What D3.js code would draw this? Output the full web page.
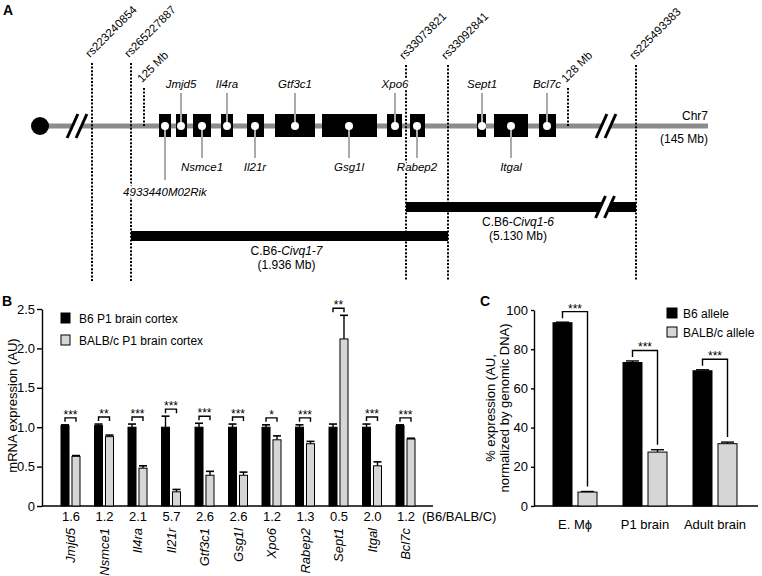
<!DOCTYPE html>
<html>
<head>
<meta charset="utf-8">
<script src="https://cdn.jsdelivr.net/npm/d3@7"></script>
<style>
  body { margin: 0; background: #fff; }
  svg { font-family: "Liberation Sans", Arial, Helvetica, sans-serif; }
  .axis path, .axis line { stroke: #000; stroke-width: 1.4; }
  .axis text { font-size: 13px; fill: #000; }
</style>
</head>
<body>
<div id="chart"></div>
<script>
// ---- Panel A: genetic map (positions in map units along the chromosome) ----
const mapGenes = ['4933440M02Rik', 'Jmjd5', 'Nsmce1', 'Il4ra', 'Il21r', 'Gtf3c1', 'Gsg1l', 'Xpo6', 'Rabep2', 'Sept1', 'Itgal', 'Bcl7c']
const geneStart = [119, 136, 153, 181, 207, 235, 282, 347, 370, 437, 454, 499]
const geneEnd = [131, 147, 171, 193, 224, 275, 337, 362, 385, 446, 488, 516]
const geneDot = [125, 141, 162, 187, 215, 255, 309, 355, 377, 442, 471, 507]
const geneSide = ['below2', 'above', 'below', 'above', 'below', 'above', 'below', 'above', 'below', 'above', 'below', 'above']

const markerNames = ['rs223240854', 'rs265227887', '125 Mb', 'rs33073821', 'rs33092841', '128 Mb', 'rs225493383']
const markerPos = [52, 91, 104, 366, 408, 528, 596]
const markerIsSnp = [true, true, false, true, true, false, true]

const chromBreaks = [37, 566]
const congenicNames = ['Civq1-7', 'Civq1-6']
const congenicSize = ['(1.936 Mb)', '(5.130 Mb)']
const congenicStart = [91, 366]
const congenicEnd = [408, 596]
const congenicBreak = [null, 565]

// ---- Panel B: mRNA expression ----
const genesB = ['Jmjd5', 'Nsmce1', 'Il4ra', 'Il21r', 'Gtf3c1', 'Gsg1l', 'Xpo6', 'Rabep2', 'Sept1', 'Itgal', 'Bcl7c']
const b6Expr = [1.02, 1.02, 1.0, 1.0, 1.0, 1.0, 1.0, 1.0, 1.0, 1.0, 1.02]
const b6Err = [0.01, 0.02, 0.04, 0.14, 0.05, 0.04, 0.03, 0.03, 0.04, 0.04, 0.01]
const balbExpr = [0.63, 0.88, 0.48, 0.18, 0.39, 0.39, 0.84, 0.79, 2.12, 0.51, 0.85]
const balbErr = [0.01, 0.02, 0.03, 0.03, 0.05, 0.04, 0.05, 0.03, 0.30, 0.05, 0.01]
const starsB = ['***', '**', '***', '***', '***', '***', '*', '***', '**', '***', '***']
const ratiosB = ['1.6', '1.2', '2.1', '5.7', '2.6', '2.6', '1.2', '1.3', '0.5', '2.0', '1.2']
const ticksB = [0, 0.5, 1.0, 1.5, 2.0, 2.5]

// ---- Panel C: allele-specific expression ----
const samplesC = ['E. M\u03d5', 'P1 brain', 'Adult brain']
const b6Allele = [93.5, 73.2, 69.0]
const b6AlleleErr = [0.3, 0.8, 0.5]
const balbAllele = [7.1, 27.5, 31.8]
const balbAlleleErr = [0.3, 1.2, 0.8]
const starsC = ['***', '***', '***']
const ticksC = [0, 20, 40, 60, 80, 100]

const gray = '#d6d6d6'

let svg = d3.select('#chart').append('svg')
    .attr('width', 762)
    .attr('height', 576)

// ===================== Panel A =====================
let xA = d3.scaleLinear().domain([0, 668]).range([40, 708])
let chromY = 126

svg.append('text').attr('x', 3).attr('y', 15)
  .style('font-size', '14px').style('font-weight', 'bold').text('A')

// chromosome
svg.append('line')
  .attr('x1', xA(0)).attr('x2', xA(668))
  .attr('y1', chromY).attr('y2', chromY)
  .attr('stroke', '#8c8c8c').attr('stroke-width', 5)
svg.append('circle').attr('cx', xA(0)).attr('cy', chromY).attr('r', 9).attr('fill', '#000')

// break marks helper
function breakMark(cx, cy, h) {
  let dx = h * 0.45, sep = 9
  svg.append('polygon')
    .attr('points', [[cx - sep / 2 - dx / 2, cy + h / 2], [cx - sep / 2 + dx / 2, cy - h / 2],
                     [cx + sep / 2 + dx / 2, cy - h / 2], [cx + sep / 2 - dx / 2, cy + h / 2]].join(' '))
    .attr('fill', '#fff')
  ;[-sep / 2, sep / 2].forEach(o => {
    svg.append('line')
      .attr('x1', cx + o - dx / 2).attr('y1', cy + h / 2)
      .attr('x2', cx + o + dx / 2).attr('y2', cy - h / 2)
      .attr('stroke', '#000').attr('stroke-width', 3)
  })
}
chromBreaks.forEach(b => breakMark(xA(b), chromY, 24))

// dotted marker lines
markerPos.forEach((p, i) => {
  let top = markerIsSnp[i] ? (i < 2 ? 63 : 65) : 88
  let bottom = markerIsSnp[i] ? 281 : chromY
  svg.append('line')
    .attr('x1', xA(p)).attr('x2', xA(p))
    .attr('y1', top).attr('y2', bottom)
    .attr('stroke', '#000').attr('stroke-width', 2)
    .attr('stroke-dasharray', '2,1.6')
  svg.append('text')
    .attr('transform', 'translate(' + (xA(p) - 2) + ',' + (top - 5) + ') rotate(-45)')
    .style('font-size', '11.5px')
    .text(markerNames[i])
})

// congenic intervals
let congY = [236, 207]
congenicNames.forEach((n, i) => {
  let y = congY[i]
  svg.append('rect')
    .attr('x', xA(congenicStart[i])).attr('width', xA(congenicEnd[i]) - xA(congenicStart[i]))
    .attr('y', y - 5).attr('height', 10).attr('fill', '#000')
  if (congenicBreak[i] !== null) breakMark(xA(congenicBreak[i]), y, 22)
  let mid = (xA(congenicStart[i]) + xA(congenicEnd[i])) / 2 - 3
  let t = svg.append('text').attr('x', mid).attr('y', y + 19)
    .attr('text-anchor', 'middle').style('font-size', '12px')
  t.append('tspan').text('C.B6-')
  t.append('tspan').style('font-style', 'italic').text(n)
  svg.append('text').attr('x', mid).attr('y', y + 33)
    .attr('text-anchor', 'middle').style('font-size', '12px').text(congenicSize[i])
})

// gene boxes, stems and labels
mapGenes.forEach((g, i) => {
  svg.append('rect')
    .attr('x', xA(geneStart[i])).attr('width', xA(geneEnd[i]) - xA(geneStart[i]))
    .attr('y', chromY - 12).attr('height', 23).attr('fill', '#000')
  let x = xA(geneDot[i])
  let side = geneSide[i]
  let stemEnd = side === 'above' ? 93 : side === 'below' ? 158 : 180
  svg.append('line')
    .attr('x1', x).attr('x2', x).attr('y1', chromY).attr('y2', stemEnd)
    .attr('stroke', '#aaa').attr('stroke-width', 2)
  svg.append('circle').attr('cx', x).attr('cy', chromY).attr('r', 4).attr('fill', '#fff')
  svg.append('text')
    .attr('x', x).attr('y', side === 'above' ? 88 : side === 'below' ? 171 : 196)
    .attr('text-anchor', 'middle')
    .style('font-size', '11.5px').style('font-style', 'italic')
    .attr('stroke', '#fff').attr('stroke-width', 4).attr('paint-order', 'stroke')
    .text(g)
})

svg.append('text').attr('x', 708).attr('y', 120).attr('text-anchor', 'end')
  .style('font-size', '12px').text('Chr7')
svg.append('text').attr('x', 708).attr('y', 143).attr('text-anchor', 'end')
  .style('font-size', '12px').text('(145 Mb)')

// ===================== Panel B =====================
let xB = d3.scaleBand().domain(genesB).range([54.25, 422.75]).padding(0)
let subB = d3.scaleBand().domain(['B6', 'BALB']).range([-10, 9]).paddingInner(0.27)
let yB = d3.scaleLinear().domain([0, 2.5]).range([506, 309])

svg.append('text').attr('x', 2).attr('y', 306)
  .style('font-size', '14px').style('font-weight', 'bold').text('B')

svg.append('g').attr('class', 'axis')
  .attr('transform', 'translate(42,0)')
  .call(d3.axisLeft(yB).tickValues(ticksB).tickSize(5).tickSizeOuter(0).tickPadding(2)
    .tickFormat(d => d === 0 ? '0' : d3.format('.1f')(d)))

svg.append('line').attr('x1', 42).attr('x2', 433).attr('y1', 506).attr('y2', 506)
  .attr('stroke', '#000').attr('stroke-width', 1.4)

svg.append('text')
  .attr('transform', 'translate(17,' + (yB(1.25) - 2) + ') rotate(-90)')
  .attr('text-anchor', 'middle').style('font-size', '13px')
  .text('mRNA expression (AU)')

let seriesB = [
  { key: 'B6', vals: b6Expr, errs: b6Err, fill: '#000' },
  { key: 'BALB', vals: balbExpr, errs: balbErr, fill: gray }
]

seriesB.forEach(s => {
  genesB.forEach((g, i) => {
    let cx = xB(g) + xB.bandwidth() / 2
    let x0 = cx + subB(s.key), w = subB.bandwidth()
    let top = yB(s.vals[i]), etop = yB(s.vals[i] + s.errs[i])
    svg.append('line').attr('x1', x0 + w / 2).attr('x2', x0 + w / 2)
      .attr('y1', top).attr('y2', etop).attr('stroke', '#000').attr('stroke-width', 1.4)
    svg.append('line').attr('x1', x0).attr('x2', x0 + w)
      .attr('y1', etop).attr('y2', etop).attr('stroke', '#000').attr('stroke-width', 1.6)
    svg.append('rect')
      .attr('x', x0).attr('width', w)
      .attr('y', top).attr('height', yB(0) - top)
      .attr('fill', s.fill)
      .attr('stroke', '#000').attr('stroke-width', 1)
  })
})

// significance brackets, ratio and gene labels
genesB.forEach((g, i) => {
  let cx = xB(g) + xB.bandwidth() / 2
  let xl = cx + subB('B6') + subB.bandwidth() / 2
  let xr = cx + subB('BALB') + subB.bandwidth() / 2
  let by = Math.min(yB(b6Expr[i] + b6Err[i]), yB(balbExpr[i] + balbErr[i])) - 7
  svg.append('path')
    .attr('d', 'M' + xl + ',' + (by + 4) + 'V' + by + 'H' + xr + 'V' + (by + 4))
    .attr('fill', 'none').attr('stroke', '#000').attr('stroke-width', 1.4)
  svg.append('text').attr('x', (xl + xr) / 2).attr('y', by + 1)
    .attr('text-anchor', 'middle').style('font-size', '12px').text(starsB[i])
  svg.append('text').attr('x', cx).attr('y', 521)
    .attr('text-anchor', 'middle').style('font-size', '13px').text(ratiosB[i])
  svg.append('text')
    .attr('transform', 'translate(' + (cx + 4) + ',528) rotate(-90)')
    .attr('text-anchor', 'end').style('font-size', '13px').style('font-style', 'italic')
    .text(g)
})
svg.append('text').attr('x', 422).attr('y', 521).style('font-size', '13px').text('(B6/BALB/C)')

// legend B
;[['B6 P1 brain cortex', '#000', 313], ['BALB/c P1 brain cortex', gray, 335]].forEach(l => {
  svg.append('rect').attr('x', 61).attr('y', l[2]).attr('width', 9).attr('height', 10)
    .attr('fill', l[1]).attr('stroke', '#000').attr('stroke-width', 1)
  svg.append('text').attr('x', 79).attr('y', l[2] + 9.5).style('font-size', '12px').text(l[0])
})

// ===================== Panel C =====================
let xC = d3.scaleBand().domain(samplesC).range([540, 750]).padding(0)
let subC = d3.scaleBand().domain(['B6', 'BALB']).range([-22, 22]).paddingInner(0.24)
let yC = d3.scaleLinear().domain([0, 100]).range([506, 310])

svg.append('text').attr('x', 480).attr('y', 306)
  .style('font-size', '14px').style('font-weight', 'bold').text('C')

svg.append('g').attr('class', 'axis')
  .attr('transform', 'translate(534,0)')
  .call(d3.axisLeft(yC).tickValues(ticksC).tickSize(3).tickSizeOuter(0).tickPadding(3))

svg.append('line').attr('x1', 534).attr('x2', 758).attr('y1', 506).attr('y2', 506)
  .attr('stroke', '#000').attr('stroke-width', 1.4)

let yLab = svg.append('text')
  .attr('transform', 'translate(495,' + yC(50) + ') rotate(-90)')
  .attr('text-anchor', 'middle').style('font-size', '13px')
yLab.append('tspan').attr('x', 0).attr('dy', 0).text('% expression (AU,')
yLab.append('tspan').attr('x', 0).attr('dy', 14).text('normalized by genomic DNA)')

let seriesC = [
  { key: 'B6', vals: b6Allele, errs: b6AlleleErr, fill: '#000' },
  { key: 'BALB', vals: balbAllele, errs: balbAlleleErr, fill: gray }
]

seriesC.forEach(s => {
  samplesC.forEach((g, i) => {
    let cx = xC(g) + xC.bandwidth() / 2
    let x0 = cx + subC(s.key), w = subC.bandwidth()
    let top = yC(s.vals[i]), etop = yC(s.vals[i] + s.errs[i])
    svg.append('line').attr('x1', x0 + w / 2).attr('x2', x0 + w / 2)
      .attr('y1', top).attr('y2', etop).attr('stroke', '#000').attr('stroke-width', 1.4)
    svg.append('line').attr('x1', x0 + 3).attr('x2', x0 + w - 3)
      .attr('y1', etop).attr('y2', etop).attr('stroke', '#000').attr('stroke-width', 1.4)
    svg.append('rect')
      .attr('x', x0).attr('width', w)
      .attr('y', top).attr('height', yC(0) - top)
      .attr('fill', s.fill)
      .attr('stroke', '#000').attr('stroke-width', 1)
  })
})

samplesC.forEach((g, i) => {
  let cx = xC(g) + xC.bandwidth() / 2
  let xl = cx + subC('B6') + subC.bandwidth() / 2
  let xr = cx + subC('BALB') + subC.bandwidth() / 2
  let by = yC(b6Allele[i] + b6AlleleErr[i]) - 10.5
  let ly = yC(b6Allele[i] + b6AlleleErr[i]) - 4
  let ry = yC(balbAllele[i] + balbAlleleErr[i]) - 5
  svg.append('path')
    .attr('d', 'M' + xl + ',' + ly + 'V' + by + 'H' + xr + 'V' + ry)
    .attr('fill', 'none').attr('stroke', '#000').attr('stroke-width', 1.4)
  svg.append('text').attr('x', (xl + xr) / 2).attr('y', by + 1)
    .attr('text-anchor', 'middle').style('font-size', '12px').text(starsC[i])
  svg.append('text').attr('x', cx).attr('y', 529)
    .attr('text-anchor', 'middle').style('font-size', '13px').text(g)
})

// legend C
;[['B6 allele', '#000', 308], ['BALB/c allele', gray, 327]].forEach(l => {
  svg.append('rect').attr('x', 667).attr('y', l[2]).attr('width', 10).attr('height', 10)
    .attr('fill', l[1]).attr('stroke', '#000').attr('stroke-width', 1)
  svg.append('text').attr('x', 683).attr('y', l[2] + 9.5).style('font-size', '12px').text(l[0])
})
</script>
</body>
</html>
